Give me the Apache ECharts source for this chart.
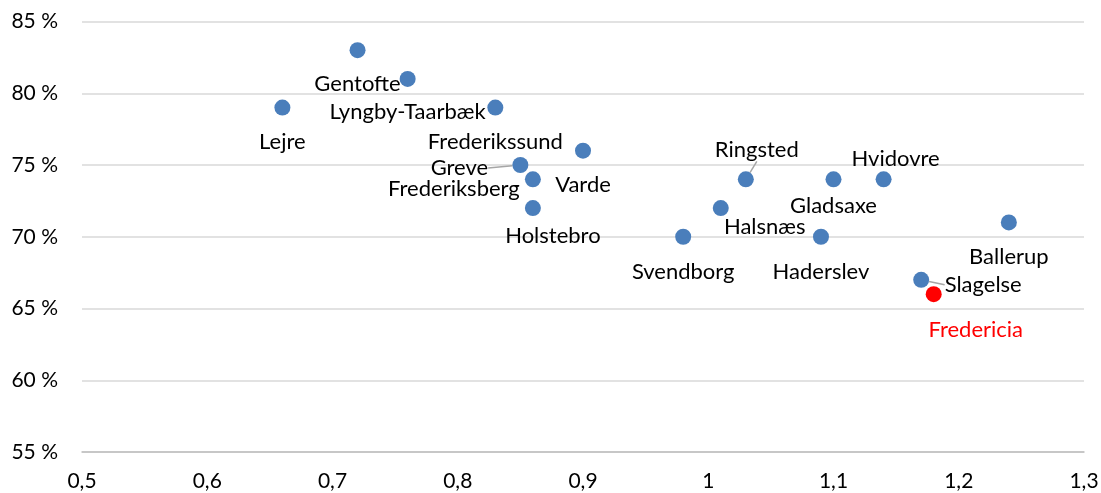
<!DOCTYPE html>
<html>
<head>
<meta charset="utf-8">
<script src="https://cdn.jsdelivr.net/npm/echarts@6/dist/echarts.min.js"></script>
<style>
  html, body {margin:0; padding:0; background:#fff;}
  #chart {width:1101px; height:493px;}
</style>
</head>
<body>
<div id="chart"></div>
<script>
// kommuner (blå punkter)
const names = ['Lejre', 'Gentofte', 'Lyngby-Taarbæk', 'Frederikssund', 'Greve', 'Frederiksberg',
  'Holstebro', 'Varde', 'Svendborg', 'Halsnæs', 'Ringsted', 'Haderslev', 'Gladsaxe', 'Hvidovre',
  'Ballerup', 'Slagelse'];
const xValues = [0.66, 0.72, 0.76, 0.83, 0.85, 0.86, 0.86, 0.90, 0.98, 1.01, 1.03, 1.09, 1.10, 1.14, 1.24, 1.17];
const yValues = [79, 83, 81, 79, 75, 74, 72, 76, 70, 72, 74, 70, 74, 74, 71, 67];
// Fredericia (rødt punkt)
const highlightName = 'Fredericia';
const highlightX = 1.18;
const highlightY = 66;
// hvor label sidder i forhold til punktet (dx, dy)
const labelOffsets = [[0, 34], [0, 34], [0, 33], [0, 34], [-61, 3], [-79, 10], [20, 28], [0, 34],
  [0, 35], [44, 19], [11, -29], [0, 35], [0, 27], [12, -20], [0, 35], [62, 5]];
const withLine = ['Greve', 'Ringsted', 'Slagelse'];
const highlightOffset = [42, 36];

const font = 'Lato';
const fmtX = v => String(Math.round(v * 10) / 10).replace('.', ',');

let data = names.map((n, i) => ({
  name: n,
  value: [xValues[i], yValues[i]],
  labelLine: {show: withLine.includes(n)}
}));

let chart = echarts.init(document.getElementById('chart'));
chart.setOption({
  backgroundColor: '#fff',
  animation: false,
  grid: {left: 82, right: 17, top: 21.5, bottom: 41, outerBoundsMode: 'none'},
  xAxis: {
    type: 'value', min: 0.5, max: 1.3, interval: 0.1,
    axisLine: {show: true, lineStyle: {color: '#bfbfbf', width: 1.5}},
    axisTick: {show: false},
    splitLine: {show: false},
    axisLabel: {color: '#000', fontFamily: font, fontSize: 21, margin: 19, formatter: fmtX}
  },
  yAxis: {
    type: 'value', min: 55, max: 85, interval: 5,
    axisLine: {show: false},
    axisTick: {show: false},
    splitLine: {lineStyle: {color: '#d9d9d9', width: 1.5}},
    axisLabel: {color: '#000', fontFamily: font, fontSize: 21, margin: 24, formatter: v => v + ' %'}
  },
  series: [{
    type: 'scatter',
    symbolSize: 16,
    itemStyle: {color: '#4a7ebb', opacity: 1},
    data: data,
    label: {
      show: true, position: 'inside', formatter: p => p.name,
      color: '#000', fontFamily: font, fontSize: 22, textBorderWidth: 0
    },
    labelLine: {lineStyle: {color: '#a6a6a6', width: 1.5}},
    labelLayout: p => ({dx: labelOffsets[p.dataIndex][0], dy: labelOffsets[p.dataIndex][1]})
  }, {
    type: 'scatter',
    symbolSize: 16,
    itemStyle: {color: '#ff0000', opacity: 1},
    data: [{name: highlightName, value: [highlightX, highlightY]}],
    label: {
      show: true, position: 'inside', formatter: p => p.name,
      color: '#ff0000', fontFamily: font, fontSize: 22, textBorderWidth: 0
    },
    labelLayout: {dx: highlightOffset[0], dy: highlightOffset[1]}
  }]
});
</script>
</body>
</html>
